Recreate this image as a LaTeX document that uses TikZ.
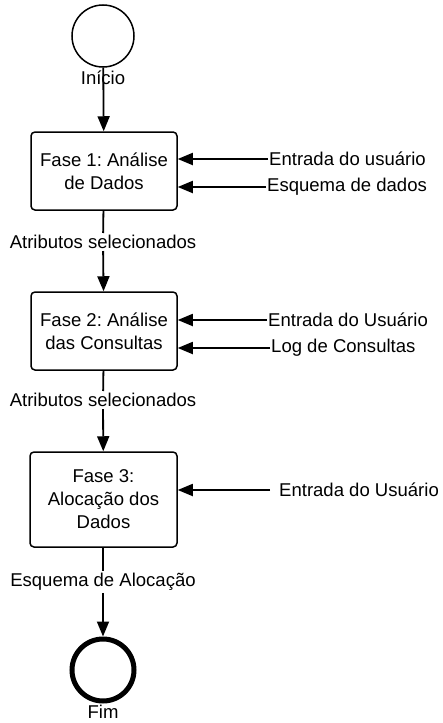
\documentclass[tikz,border=0pt]{standalone}
\usepackage{fontspec}
\setmainfont{Liberation Sans}
\usetikzlibrary{arrows.meta}
\frenchspacing
\begin{document}
\begin{tikzpicture}[
  txt/.style={font=\fontsize{18.6}{23}\selectfont, inner sep=1bp},
  rotulo/.style={txt, fill=white, inner sep=2bp},
  fase/.style={draw, line width=1.5bp, rounded corners=4bp, align=center,
    inner sep=0pt, font=\fontsize{18.6}{23}\selectfont},
  seta/.style={line width=1.8bp, -{Triangle[length=15bp,width=12bp]}}]
\useasboundingbox (0bp,0bp) rectangle (443bp,-723bp);
% inicio e fim
\node (S) at (103bp,-36bp)[draw,circle,line width=1.5bp,minimum size=62bp,inner sep=0pt] {};
\node (SL) at (103bp,-78bp)[txt] {Início};
\node (E) at (103bp,-670bp)[draw,circle,line width=5bp,minimum size=62bp,inner sep=0pt] {};
\node (EL) at (103bp,-712bp)[txt] {Fim};
% fases
\node (F1) at (104bp,-171bp)[fase,minimum width=146bp,minimum height=78bp] {Fase 1: Análise\\de Dados};
\node (F2) at (104bp,-331bp)[fase,minimum width=146bp,minimum height=78bp] {Fase 2: Análise\\das Consultas};
\node (F3) at (103.5bp,-499.5bp)[fase,minimum width=147bp,minimum height=95bp] {Fase 3:\\Alocação dos\\Dados};
% entradas
\node (I1) at (268bp,-159bp)[txt,anchor=west] {Entrada do usuário};
\node (I2) at (266bp,-187bp)[txt,anchor=west] {Esquema de dados};
\node (I3) at (267bp,-320bp)[txt,anchor=west] {Entrada do Usuário};
\node (I4) at (270bp,-348bp)[txt,anchor=west] {Log de Consultas};
\node (I5) at (278bp,-490bp)[txt,anchor=west] {Entrada do Usuário};
\draw [seta] (I1.west) -- (F1.east |- I1.west);
\draw [seta] (I2.west) -- (F1.east |- I2.west);
\draw [seta] (I3.west) -- (F2.east |- I3.west);
\draw [seta] (I4.west) -- (F2.east |- I4.west);
\draw [seta] ([xshift=-8bp]I5.west) -- (F3.east |- I5.west);
% saidas
\node (A1) at (103bp,-242bp)[rotulo] {Atributos selecionados};
\node (A2) at (103bp,-400bp)[rotulo] {Atributos selecionados};
\node (A3) at (103bp,-582bp)[rotulo] {Esquema de Alocação};
\draw [seta] (S) -- (F1);
\draw [seta] (F1) -- (A1) -- (F2);
\draw [seta] (F2) -- (A2) -- (F3);
\draw [seta] (F3.south -| A3) -- (A3) -- (E);
\end{tikzpicture}
\end{document}
